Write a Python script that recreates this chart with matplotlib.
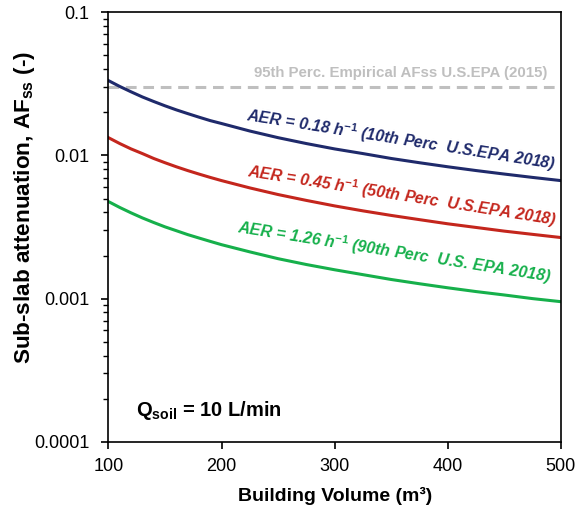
import matplotlib
matplotlib.use("Agg")
import matplotlib.pyplot as plt
from matplotlib.ticker import FixedLocator, LogLocator, NullFormatter

plt.rcParams['font.family'] = ['Liberation Sans', 'DejaVu Sans']
plt.rcParams['mathtext.fontset'] = 'custom'
plt.rcParams['mathtext.rm'] = 'Liberation Sans:bold'
plt.rcParams['mathtext.bf'] = 'Liberation Sans:bold'
plt.rcParams['mathtext.it'] = 'Liberation Sans:bold:italic'
plt.rcParams['mathtext.sf'] = 'Liberation Sans:bold'

volume = [100, 110, 120, 130, 140, 150, 160, 170, 180, 190, 200,
          225, 250, 275, 300, 325, 350, 375, 400, 425, 450, 475, 500]
af_aer018 = [0.0333, 0.0303, 0.0278, 0.0256, 0.0238, 0.0222, 0.0208, 0.0196, 0.0185, 0.0175, 0.0167,
             0.0148, 0.0133, 0.0121, 0.0111, 0.0103, 0.00952, 0.00889, 0.00833, 0.00784, 0.00741,
             0.00702, 0.00667]
af_aer045 = [0.0133, 0.0121, 0.0111, 0.0103, 0.00952, 0.00889, 0.00833, 0.00784, 0.00741, 0.00702,
             0.00667, 0.00593, 0.00533, 0.00485, 0.00444, 0.00410, 0.00381, 0.00356, 0.00333,
             0.00314, 0.00296, 0.00281, 0.00267]
af_aer126 = [0.00476, 0.00433, 0.00397, 0.00366, 0.00340, 0.00317, 0.00298, 0.00280, 0.00265,
             0.00251, 0.00238, 0.00212, 0.00190, 0.00173, 0.00159, 0.00147, 0.00136, 0.00127,
             0.00119, 0.00112, 0.00106, 0.00100, 0.000952]
empirical_95th = 0.03

xticks = [100, 200, 300, 400, 500]
yticks = [0.0001, 0.001, 0.01, 0.1]
ytick_labels = ['0.0001', '0.001', '0.01', '0.1']

c_blue = '#1f2a6b'
c_red = '#c4261d'
c_green = '#16b04b'
c_gray = '#bfbfbf'

fig = plt.figure(figsize=(5.8, 5.09), dpi=100)
ax = fig.add_axes([0.187, 0.132, 0.780, 0.844])

ax.axhline(empirical_95th, color=c_gray, lw=2.2, ls=(0, (3.5, 2.2)), zorder=1)
ax.plot(volume, af_aer018, color=c_blue, lw=2.2, zorder=2)
ax.plot(volume, af_aer045, color=c_red, lw=2.2, zorder=2)
ax.plot(volume, af_aer126, color=c_green, lw=2.2, zorder=2)

ax.set_yscale('log')
ax.set_xlim(100, 500)
ax.set_ylim(0.0001, 0.1)
ax.xaxis.set_major_locator(FixedLocator(xticks))
ax.set_xticklabels([str(v) for v in xticks])
ax.yaxis.set_major_locator(FixedLocator(yticks))
ax.set_yticklabels(ytick_labels)
ax.yaxis.set_minor_locator(LogLocator(base=10, subs=range(2, 10)))
ax.yaxis.set_minor_formatter(NullFormatter())

ax.tick_params(axis='both', which='major', labelsize=13, direction='out', length=5, width=1.2, color='black')
ax.tick_params(axis='y', which='major', pad=8.5)
ax.tick_params(axis='x', which='major', pad=6.5)
ax.tick_params(axis='y', which='minor', direction='out', length=3.5, width=1.0)
for sp in ax.spines.values():
    sp.set_linewidth(1.2)

ax.set_xlabel('Building Volume (m³)', fontsize=14, fontweight='bold', labelpad=9)
ax.set_ylabel('Sub-slab attenuation, AF$_{\\mathbf{ss}}$ (-)', fontsize=16.2, fontweight='bold')
ax.yaxis.set_label_coords(-0.159, 0.546)

ax.text(488, 0.0352, '95th Perc. Empirical AFss U.S.EPA (2015)', color=c_gray,
        fontsize=10.8, fontweight='bold', ha='right', va='baseline')
ax.text(359, 0.0128, 'AER = 0.18 h$^{\\mathit{-1}}$ (10th Perc  U.S.EPA 2018)', color=c_blue,
        fontsize=11.5, fontweight='bold', style='italic', ha='center', va='center', rotation=-9,
        rotation_mode='anchor')
ax.text(360, 0.0052, 'AER = 0.45 h$^{\\mathit{-1}}$ (50th Perc  U.S.EPA 2018)', color=c_red,
        fontsize=11.5, fontweight='bold', style='italic', ha='center', va='center', rotation=-9,
        rotation_mode='anchor')
ax.text(353, 0.00211, 'AER = 1.26 h$^{\\mathit{-1}}$ (90th Perc  U.S. EPA 2018)', color=c_green,
        fontsize=11.5, fontweight='bold', style='italic', ha='center', va='center', rotation=-9,
        rotation_mode='anchor')
ax.text(0.061, 0.074, 'Q$_{\\mathbf{soil}}$ = 10 L/min', transform=ax.transAxes,
        fontsize=14.5, fontweight='bold', ha='left', va='center')

fig.savefig('out.png', dpi=100)
